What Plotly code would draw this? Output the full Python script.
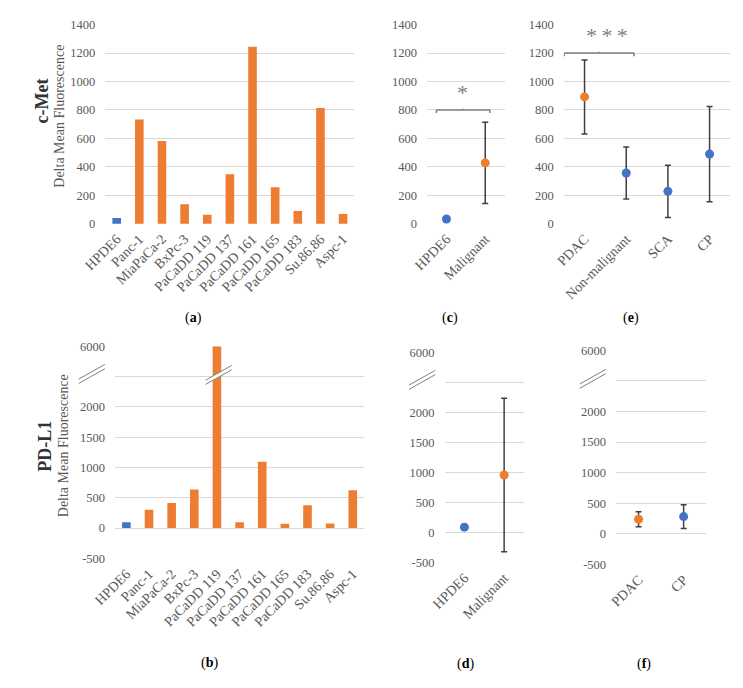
import plotly.graph_objects as go

W, H = 743, 688

# ---------------- data ----------------
cell_lines = ["HPDE6", "Panc-1", "MiaPaCa-2", "BxPc-3", "PaCaDD 119", "PaCaDD 137",
              "PaCaDD 161", "PaCaDD 165", "PaCaDD 183", "Su.86.86", "Aspc-1"]
cmet_values = [41, 733, 582, 138, 64, 349, 1244, 257, 90, 814, 69]
pdl1_values = [95, 303, 416, 638, 6000, 97, 1097, 70, 378, 76, 627]

group2 = ["HPDE6", "Malignant"]
cmet_group2_mean = [34, 428]
cmet_group2_sd = [0, 285]
pdl1_group2_mean = [85, 955]
pdl1_group2_sd = [0, 1280]

group4 = ["PDAC", "Non-malignant", "SCA", "CP"]
cmet_group4_mean = [892, 357, 228, 490]
cmet_group4_sd = [260, 182, 184, 335]

group_f = ["PDAC", "CP"]
pdl1_groupf_mean = [236, 280]
pdl1_groupf_sd = [124, 195]

cmet_ticks = [0, 200, 400, 600, 800, 1000, 1200, 1400]
pdl1_ticks = [-500, 0, 500, 1000, 1500, 2000, 2500, 6000]
pdl1_ticktext = ["-500", "0", "500", "1000", "1500", "2000", "", "6000"]

BLUE = "#4472C4"
ORANGE = "#ED7D31"
GRID = "#D9D9D9"
TICKC = "#595959"
ERRC = "#404040"
FONT = "Liberation Serif"

# broken axis: values above 2500 compressed so 6000 sits one grid step higher
BREAK_LO, BREAK_HI = 2500, 6000
def brk(v):
    if v <= BREAK_LO:
        return v
    return BREAK_LO + (v - BREAK_LO) * 500 / (BREAK_HI - BREAK_LO)

def colors_for(cats, orange_set):
    return [ORANGE if c in orange_set else BLUE for c in cats]

# ---------------- layout helpers ----------------
def xdom(l, r):
    return [l / W, r / W]

def ydom(v0, p0, v1, p1, rng):
    s = (p0 - p1) / (v1 - v0)
    top = p1 - (rng[1] - v1) * s
    bot = p0 + (v0 - rng[0]) * s
    return [1 - bot / H, 1 - top / H]

fig = go.Figure()

# panel a
fig.add_trace(go.Bar(x=cell_lines, y=cmet_values,
                     marker=dict(color=colors_for(cell_lines, set(cell_lines[1:])), line=dict(width=0)),
                     xaxis="x", yaxis="y", showlegend=False))
# panel c
fig.add_trace(go.Scatter(x=group2, y=cmet_group2_mean, mode="markers",
                         marker=dict(size=9, color=colors_for(group2, {"Malignant"})),
                         error_y=dict(type="data", array=cmet_group2_sd, color=ERRC, thickness=1.5, width=3),
                         xaxis="x2", yaxis="y2", showlegend=False))
# panel e
fig.add_trace(go.Scatter(x=group4, y=cmet_group4_mean, mode="markers",
                         marker=dict(size=9, color=colors_for(group4, {"PDAC"})),
                         error_y=dict(type="data", array=cmet_group4_sd, color=ERRC, thickness=1.5, width=3),
                         xaxis="x3", yaxis="y3", showlegend=False))
# panel b
fig.add_trace(go.Bar(x=cell_lines, y=[brk(v) for v in pdl1_values],
                     customdata=pdl1_values,
                     marker=dict(color=colors_for(cell_lines, set(cell_lines[1:])), line=dict(width=0)),
                     xaxis="x4", yaxis="y4", showlegend=False))
# panel d
fig.add_trace(go.Scatter(x=group2, y=[brk(v) for v in pdl1_group2_mean], mode="markers",
                         marker=dict(size=9, color=colors_for(group2, {"Malignant"})),
                         error_y=dict(type="data", array=pdl1_group2_sd, color=ERRC, thickness=1.5, width=3),
                         xaxis="x5", yaxis="y5", showlegend=False))
# panel f
fig.add_trace(go.Scatter(x=group_f, y=[brk(v) for v in pdl1_groupf_mean], mode="markers",
                         marker=dict(size=9, color=colors_for(group_f, {"PDAC"})),
                         error_y=dict(type="data", array=pdl1_groupf_sd, color=ERRC, thickness=1.5, width=3),
                         xaxis="x6", yaxis="y6", showlegend=False))

top_rng = [-3, 1403]
bot_rng = [-512, 3012]

def xa(dom, n, anchor):
    return dict(domain=dom, range=[-0.5, n - 0.5], type="category", anchor=anchor,
                showgrid=False, showline=False, zeroline=False, ticks="",
                tickangle=-45, tickfont=dict(family=FONT, size=14, color=TICKC),
                ticklabelstandoff=3, fixedrange=True)

def ya(dom, rng, anchor, tickvals, ticktext=None):
    d = dict(domain=dom, range=rng, anchor=anchor, showgrid=True, gridcolor=GRID, gridwidth=1,
             showline=False, zeroline=False, ticks="", tickmode="array", tickvals=tickvals,
             tickfont=dict(family=FONT, size=12.5, color=TICKC), ticklabelstandoff=9, fixedrange=True)
    if ticktext is not None:
        d["ticktext"] = ticktext
    return d

top_dom = ydom(0, 222, 1400, 19, top_rng)
pdl1_tv = [brk(v) for v in pdl1_ticks]

fig.update_layout(
    width=W, height=H, margin=dict(l=0, r=0, t=0, b=0),
    paper_bgcolor="white", plot_bgcolor="white",
    bargap=0.62,
    font=dict(family=FONT, color=TICKC),
    xaxis=xa(xdom(85, 342), 11, "y"),
    yaxis=ya(top_dom, top_rng, "x", cmet_ticks),
    xaxis2=xa(xdom(417, 497), 2, "y2"),
    yaxis2=ya(top_dom, top_rng, "x2", cmet_ticks),
    xaxis3=xa(xdom(558, 730), 4, "y3"),
    yaxis3=ya(top_dom, top_rng, "x3", cmet_ticks),
    xaxis4=xa(xdom(95, 352), 11, "y4"),
    yaxis4=ya(ydom(-500, 563, 3000, 347, bot_rng), bot_rng, "x4", pdl1_tv, pdl1_ticktext),
    xaxis5=xa(xdom(435, 517), 2, "y5"),
    yaxis5=ya(ydom(-500, 567, 3000, 353, bot_rng), bot_rng, "x5", pdl1_tv, pdl1_ticktext),
    xaxis6=xa(xdom(612, 705), 2, "y6"),
    yaxis6=ya(ydom(-500, 569, 3000, 351, bot_rng), bot_rng, "x6", pdl1_tv, pdl1_ticktext),
)

shapes = []
# significance brackets
def bracket(xref, yref, x0, x1, y, drop, mid):
    c = "#7F7F7F"
    shapes.append(dict(type="line", xref=xref, yref=yref, x0=x0, x1=x1, y0=y, y1=y, line=dict(color=c, width=1.5)))
    shapes.append(dict(type="line", xref=xref, yref=yref, x0=x0, x1=x0, y0=y, y1=y - drop, line=dict(color=c, width=1.5)))
    shapes.append(dict(type="line", xref=xref, yref=yref, x0=x1, x1=x1, y0=y, y1=y - drop, line=dict(color=c, width=1.5)))
    xm = (x0 + x1) / 2
    shapes.append(dict(type="line", xref=xref, yref=yref, x0=xm, x1=xm, y0=y, y1=y + mid, line=dict(color=c, width=1)))

bracket("x2", "y2", -0.26, 1.12, 800, 22, 10)
bracket("x3", "y3", -0.49, 1.19, 1200, 22, 10)

# axis-break marks (paper coords from pixel centres)
def brkmark(cx, cy, w=27, h=15, gap=2.2):
    for dy in (-gap, gap):
        shapes.append(dict(type="line", xref="paper", yref="paper",
                           x0=(cx - w / 2) / W, x1=(cx + w / 2) / W,
                           y0=1 - (cy + h / 2 + dy) / H, y1=1 - (cy - h / 2 + dy) / H,
                           line=dict(color="#808080", width=1)))

def whiteband(cx, cy, w=27, h=15):
    shapes.append(dict(type="line", xref="paper", yref="paper",
                       x0=(cx - w / 2) / W, x1=(cx + w / 2) / W,
                       y0=1 - (cy + h / 2) / H, y1=1 - (cy - h / 2) / H,
                       line=dict(color="white", width=4)))

brkmark(71, 375)
whiteband(202, 376)
brkmark(202, 376)
brkmark(412, 381)
brkmark(588, 380)

annotations = []
def ann(text, x, y, size, color="black", angle=0, family=FONT):
    annotations.append(dict(text=text, x=x / W, y=1 - y / H, xref="paper", yref="paper",
                            showarrow=False, textangle=angle, xanchor="center", yanchor="middle",
                            font=dict(family=family, size=size, color=color)))

ann("<b>c-Met</b>", 20, 97, 18, "#333333", -90)
ann("Delta Mean Fluorescence", 38, 112, 14, TICKC, -90)
ann("<b>PD-L1</b>", 22, 449, 18, "#333333", -90)
ann("Delta Mean Fluorescence", 42, 448, 14, TICKC, -90)

ann("*", 454, 88, 22, "#7F7F7F")
ann("*\u2009*\u2009*", 603, 30, 22, "#7F7F7F")

ann("(<b>a</b>)", 176, 318, 14)
ann("(<b>c</b>)", 441, 318, 14)
ann("(<b>e</b>)", 627, 318, 14)
ann("(<b>b</b>)", 192, 670, 14)
ann("(<b>d</b>)", 457, 671, 14)
ann("(<b>f</b>)", 641, 671, 14)

fig.update_layout(shapes=shapes, annotations=annotations)
fig.write_html("out.html", config={"displayModeBar": False},
               post_script="document.body.style.margin='0';document.body.style.overflow='hidden';")
